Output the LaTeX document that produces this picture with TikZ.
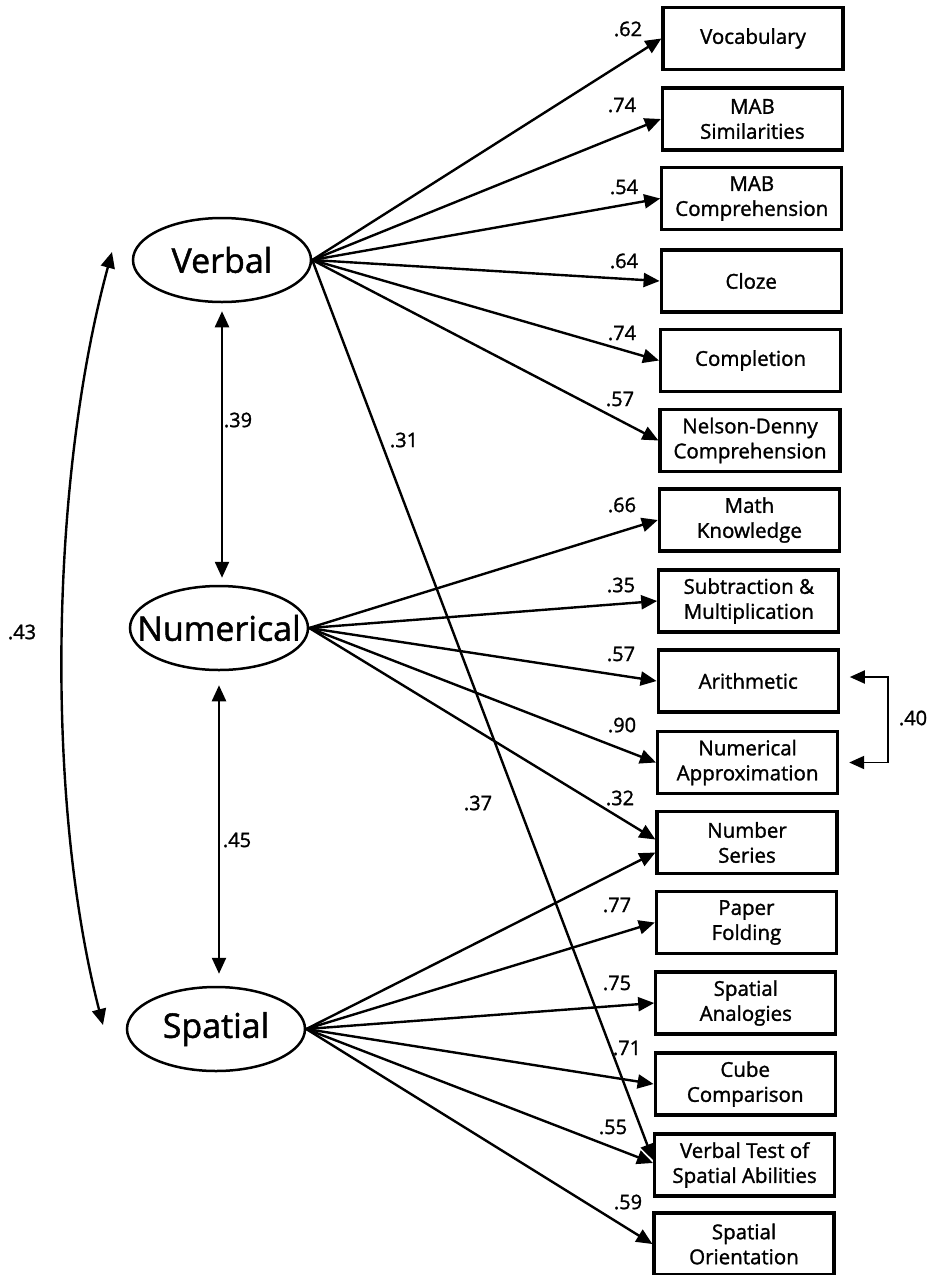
\documentclass[tikz,border=0pt]{standalone}
\usepackage{fontspec}
\setmainfont{Open Sans}[FakeBold=1.4]
\usetikzlibrary{arrows.meta,shapes.geometric,calc}
\begin{document}
\begin{tikzpicture}[x=1pt,y=-1pt,
  latent/.style={ellipse,draw,line width=2.5pt,minimum width=178pt,minimum height=84pt,inner sep=0pt},
  lattext/.style={font=\fontsize{34}{36}\selectfont,inner sep=0pt},
  obs/.style={draw,line width=3.2pt,minimum width=180pt,minimum height=62pt,inner sep=0pt,align=center,font=\fontsize{20.5}{25}\selectfont},
  load/.style={line width=2.4pt,-{Triangle[length=16pt,width=14pt]}},
  dbl/.style={line width=2.4pt,{Triangle[length=16pt,width=14pt]}-{Triangle[length=16pt,width=14pt]}},
  coef/.style={font=\fontsize{20}{22}\selectfont,inner sep=0pt}]
\useasboundingbox[fill=white] (0,0) rectangle (929,1275);

% latent variables
\node[latent,label={[lattext]center:Verbal}] (V) at (222,260) {};
\node[latent,label={[lattext]center:Numerical}] (N) at (219,628) {};
\node[latent,label={[lattext]center:Spatial}] (S) at (216,1029) {};

% observed variables
\node[obs] (b1)  at (753,38.5)   {Vocabulary};
\node[obs] (b2)  at (752.4,119)  {MAB\\Similarities};
\node[obs] (b3)  at (751.8,198.5){MAB\\Comprehension};
\node[obs] (b4)  at (751.2,281)  {Cloze};
\node[obs] (b5)  at (750.6,360.5){Completion};
\node[obs] (b6)  at (750,440.5)  {Nelson-Denny\\Comprehension};
\node[obs] (b7)  at (749.4,520)  {Math\\Knowledge};
\node[obs] (b8)  at (748.8,601)  {Subtraction \&\\Multiplication};
\node[obs] (b9)  at (748.2,681)  {Arithmetic};
\node[obs] (b10) at (747.6,762.5){Numerical\\Approximation};
\node[obs] (b11) at (747,842.5)  {Number\\Series};
\node[obs] (b12) at (746.4,922.5){Paper\\Folding};
\node[obs] (b13) at (745.8,1003) {Spatial\\Analogies};
\node[obs] (b14) at (745.2,1084) {Cube\\Comparison};
\node[obs] (b15) at (744.6,1165) {Verbal Test of\\Spatial Abilities};
\node[obs] (b16) at (744,1244)   {Spatial\\Orientation};

% verbal loadings
\draw[load] (V.east) -- (b1.west);
\draw[load] (V.east) -- (b2.west);
\draw[load] (V.east) -- (b3.west);
\draw[load] (V.east) -- (b4.west);
\draw[load] (V.east) -- (b5.west);
\draw[load] (V.east) -- (b6.west);
\draw[load] (V.east) -- ($(b15.west)+(0,-5)$);

% numerical loadings
\draw[load] (N.east) -- (b7.west);
\draw[load] (N.east) -- (b8.west);
\draw[load] (N.east) -- (b9.west);
\draw[load] (N.east) -- (b10.west);
\draw[load] (N.east) -- ($(b11.west)+(0,-3)$);

% spatial loadings
\draw[load] (S.east) -- ($(b11.west)+(0,10)$);
\draw[load] (S.east) -- (b12.west);
\draw[load] (S.east) -- (b13.west);
\draw[load] (S.east) -- (b14.west);
\draw[load] (S.east) -- ($(b15.west)+(0,-2)$);
\draw[load] (S.east) -- (b16.west);

% correlations among factors
\draw[dbl,shorten <=8pt,shorten >=7pt] (V.south) -- (V.south |- N.north);
\draw[dbl,shorten <=14pt,shorten >=12pt] (N.south) -- (N.south |- S.north);
\coordinate (c1) at (112,252);
\coordinate (c2) at (103,1025);
\draw[dbl] (c1) .. controls (50,480) and (45,800) .. (c2);

% residual correlation
\draw[line width=1.9pt,{Triangle[length=15pt,width=13pt]}-{Triangle[length=15pt,width=13pt]}]
  ([xshift=10pt,yshift=4pt]b9.east) -- ++(38,0) |- ([xshift=10pt]b10.east);

% coefficients
\node[coef] (l1)  at (628,29)   {.62};
\node[coef] (l2)  at (622,105)  {.74};
\node[coef] (l3)  at (624,187)  {.54};
\node[coef] (l4)  at (624,261)  {.64};
\node[coef] (l5)  at (622,333)  {.74};
\node[coef] (l6)  at (620,399)  {.57};
\node[coef] (l7)  at (622,505)  {.66};
\node[coef] (l8)  at (621,585)  {.35};
\node[coef] (l9)  at (621,654)  {.57};
\node[coef] (l10) at (622,725)  {.90};
\node[coef] (l11) at (620,798)  {.32};
\node[coef] (l12) at (617,905)  {.77};
\node[coef] (l13) at (617,983)  {.75};
\node[coef] (l14) at (627,1048) {.71};
\node[coef] (l15) at (613,1127) {.55};
\node[coef] (l16) at (628,1202) {.59};
\node[coef] (l17) at (478,803)  {.37};
\node[coef] (l18) at (404,440)  {.31};
\node[coef] (l19) at (238,420)  {.39};
\node[coef] (l20) at (237,840)  {.45};
\node[coef] (l21) at (22,632)   {.43};
\node[coef] (l22) at (913,718)  {.40};
\end{tikzpicture}
\end{document}
